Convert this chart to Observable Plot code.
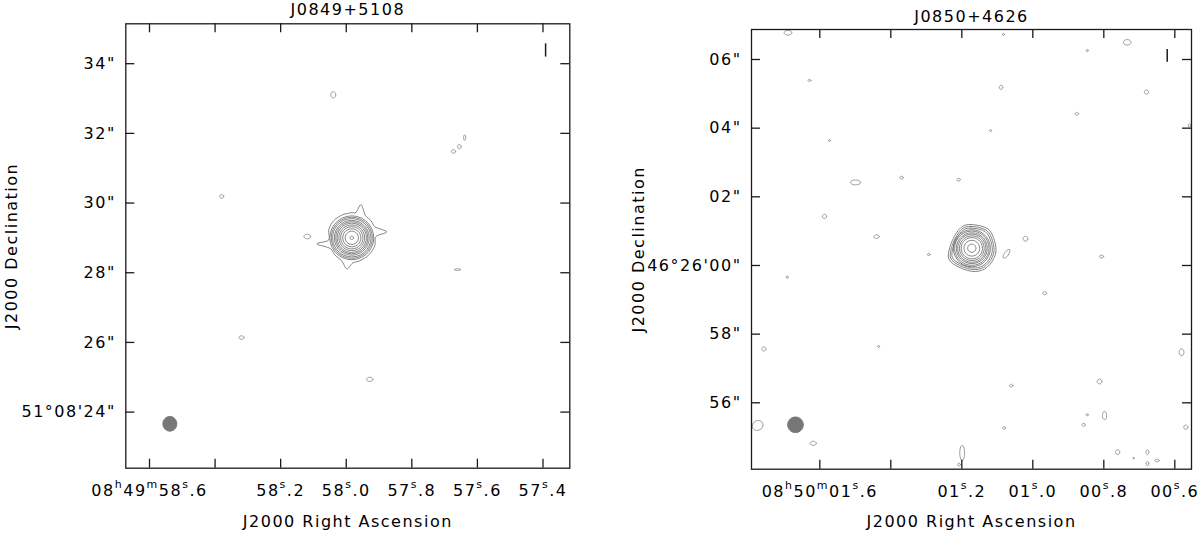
<!DOCTYPE html>
<html><head><meta charset="utf-8">
<script src="https://cdn.jsdelivr.net/npm/d3@7"></script>
<script src="https://cdn.jsdelivr.net/npm/@observablehq/plot@0.6"></script>
<style>
html,body{margin:0;padding:0;background:#fff;}
#wrap{position:relative;width:1200px;height:533px;overflow:hidden;background:#fff;}
#left,#right{position:absolute;top:0;}
#left{left:0}#right{left:600px}
</style></head>
<body><div id="wrap"><div id="left"></div><div id="right"></div></div>
<script>
// ---------------- Left panel: J0849+5108 ----------------
const leftTitle = "J0849+5108";
const leftDecDeg = 51 + 8 / 60;             // Dec of the field (deg), for RA seconds <-> arcsec
const leftXDomain = [58.6723, 57.3182];      // RA seconds past 08h49m
const leftYDomain = [22.39, 35.145];         // Dec arcsec past 51°08'
const leftXTicks = [58.6, 58.4, 58.2, 58.0, 57.8, 57.6, 57.4];
const leftXLabels = ["08h49m58s.6", "", "58s.2", "58s.0", "57s.8", "57s.6", "57s.4"];
const leftYTicks = [24, 26, 28, 30, 32, 34];
const leftYLabels = ["51°08'24\"", "26\"", "28\"", "30\"", "32\"", "34\""];
const leftSource = {ra: 57.9831, dec: 29.003};
const leftRings = [0.05, 0.19, 0.26, 0.32, 0.37, 0.42, 0.46, 0.50, 0.55, 0.59, 0.63]; // contour radii, arcsec
const leftOutline = [[0,0.72],[0.11,0.72],[0.26,0.95],[0.40,0.63],[0.55,0.49],[0.66,0.32],[1.0,0.17],[0.69,0.03],[0.66,-0.23],[0.49,-0.49],[0.23,-0.66],[0.03,-0.72],[-0.14,-0.89],[-0.29,-0.66],[-0.49,-0.49],[-0.60,-0.32],[-1.0,-0.17],[-0.66,-0.06],[-0.66,0.23],[-0.52,0.49],[-0.26,0.66]]; // outer contour, arcsec west/north
const leftOutlineLevels = [1];
const leftNoiseRA  = [58.0395, 57.673, 57.655, 57.639, 58.380, 58.119, 57.661, 58.319, 57.9285];
const leftNoiseDec = [33.107, 31.48, 31.62, 31.88, 30.19, 29.04, 28.09, 26.14, 24.94];
const leftNoiseRx  = [0.07, 0.06, 0.05, 0.03, 0.06, 0.095, 0.09, 0.07, 0.09];
const leftNoiseRy  = [0.09, 0.05, 0.06, 0.08, 0.05, 0.066, 0.025, 0.05, 0.06];
const leftBeam = {ra: 58.538, dec: 23.664, rx: 0.20, ry: 0.21};
const leftMarker = {ra: 57.392, dec1: 34.19, dec2: 34.57};

// ---------------- Right panel: J0850+4626 ----------------
const rightTitle = "J0850+4626";
const rightDecDeg = 46 + 26 / 60;
const rightXDomain = [1.7924, 0.553];        // RA seconds past 08h50m
const rightYDomain = [54.066, 66.874];       // Dec arcsec past 46°25'
const rightXTicks = [1.6, 1.4, 1.2, 1.0, 0.8, 0.6];
const rightXLabels = ["08h50m01s.6", "", "01s.2", "01s.0", "00s.8", "00s.6"];
const rightYTicks = [56, 58, 60, 62, 64, 66];
const rightYLabels = ["56\"", "58\"", "46°26'00\"", "02\"", "04\"", "06\""];
const rightSource = {ra: 1.1718, dec: 60.503};
const rightRings = [0.12, 0.23, 0.31, 0.36, 0.41, 0.45, 0.50, 0.54];
const rightOutline = [[-0.28,0.63],[-0.04,0.69],[0.47,0.56],[0.66,0.22],[0.69,-0.17],[0.45,-0.55],[0.11,-0.68],[-0.38,-0.55],[-0.67,-0.31],[-0.57,0.22]];
const rightOutlineLevels = [1, 0.92, 0.85];
const rightNoiseRA  = [1.6896, 1.0829, 0.8468, 0.7341, 1.6292, 1.0894, 0.680, 0.876, 0.5586, 1.5727, 1.1192, 1.4994, 1.3699, 1.2093, 1.5868, 1.4403, 1.2930, 1.0741, 1.0206, 0.9670, 0.8065, 1.6918, 1.7577, 1.4346, 0.5811, 0.812, 1.061, 1.775, 1.6186, 1.199, 1.208, 1.081, 0.847, 0.798, 0.857, 0.761, 0.716, 0.677, 0.677, 0.650, 0.569];
const rightNoiseDec = [66.78, 66.73, 66.26, 66.50, 65.39, 65.19, 65.05, 64.42, 64.08, 63.64, 63.93, 62.42, 62.56, 62.50, 61.43, 60.84, 60.32, 60.34, 60.78, 59.19, 60.26, 59.66, 57.57, 57.64, 57.47, 56.62, 56.50, 55.34, 54.82, 54.54, 54.20, 55.27, 55.65, 55.63, 55.36, 54.56, 54.39, 54.56, 54.23, 54.32, 55.29];
const rightNoiseRx  = [0.11, 0.03, 0.03, 0.11, 0.04, 0.05, 0.06, 0.05, 0.04, 0.03, 0.03, 0.15, 0.05, 0.05, 0.06, 0.08, 0.04, 0.15, 0.07, 0.06, 0.06, 0.03, 0.06, 0.03, 0.07, 0.07, 0.05, 0.16, 0.09, 0.07, 0.04, 0.04, 0.03, 0.06, 0.05, 0.06, 0.02, 0.04, 0.04, 0.06, 0.06];
const rightNoiseRy  = [0.07, 0.03, 0.03, 0.08, 0.03, 0.06, 0.06, 0.04, 0.04, 0.03, 0.03, 0.07, 0.04, 0.04, 0.06, 0.05, 0.03, 0.06, 0.07, 0.04, 0.04, 0.03, 0.06, 0.03, 0.10, 0.07, 0.04, 0.14, 0.06, 0.22, 0.04, 0.04, 0.03, 0.12, 0.04, 0.07, 0.02, 0.07, 0.06, 0.04, 0.06];
const rightNoiseAngle = {17: 55, 27: 30};
const rightBeam = {ra: 1.6685, dec: 55.359, rx: 0.227, ry: 0.227};
const rightMarker = {ra: 0.6214, dec1: 65.92, dec2: 66.29};

const axisTitleX = "J2000 Right Ascension";
const axisTitleY = "J2000 Declination";

// ---------------- drawing ----------------
function ellipse(id, ra0, dec0, rx, ry, angleDeg, k, n = 28) {
  const a = angleDeg * Math.PI / 180, pts = [];
  for (let j = 0; j < n; j++) {
    const t = 2 * Math.PI * j / n, ex = rx * Math.cos(t), ey = ry * Math.sin(t);
    const dx = ex * Math.cos(a) - ey * Math.sin(a), dy = ex * Math.sin(a) + ey * Math.cos(a);
    pts.push({id, ra: ra0 - dx / k, dec: dec0 + dy});
  }
  return pts;
}

function panel(c) {
  const W = 600, H = 533, m = c.margins;
  const fw = W - m.left - m.right, fh = H - m.top - m.bottom, tick = 9;
  const k = 15 * Math.cos(c.decDeg * Math.PI / 180); // arcsec per RA second
  const ringPts = c.rings.flatMap((r, i) => ellipse("r" + i, c.source.ra, c.source.dec, r, r, 0, k));
  const outlinePts = c.outlineLevels.flatMap((s, i) => c.outline.map(([dx, dy]) => ({id: "o" + i, ra: c.source.ra - dx * s / k, dec: c.source.dec + dy * s})));
  const noisePts = c.noiseRA.flatMap((ra, i) => ellipse("n" + i, ra, c.noiseDec[i], c.noiseRx[i], c.noiseRy[i], (c.noiseAngle || {})[i] || 0, k));
  const beamPts = ellipse("beam", c.beam.ra, c.beam.dec, c.beam.rx, c.beam.ry, 0, k, 40);
  const xLab = new Map(c.xTicks.map((t, i) => [t, c.xLabels[i]]));
  const yLab = new Map(c.yTicks.map((t, i) => [t, c.yLabels[i]]));
  const ink = "#1a1a1a", cont = "#666";
  const svg = Plot.plot({
    width: W, height: H,
    marginTop: m.top, marginRight: m.right, marginBottom: m.bottom, marginLeft: m.left,
    style: {fontFamily: "'DejaVu Sans', sans-serif", fontSize: "16px", letterSpacing: "1.5px", background: "#fff", color: "#000"},
    x: {domain: c.xDomain, label: null},
    y: {domain: c.yDomain, label: null},
    marks: [
      Plot.line(beamPts, {x: "ra", y: "dec", z: "id", curve: "linear-closed", fill: "#777", stroke: "#777", strokeWidth: 1}),
      Plot.line(noisePts, {x: "ra", y: "dec", z: "id", curve: "linear-closed", stroke: "#808080", strokeWidth: 0.8, clip: true}),
      Plot.line(ringPts, {x: "ra", y: "dec", z: "id", curve: "linear-closed", stroke: cont, strokeWidth: 0.8}),
      Plot.line(outlinePts, {x: "ra", y: "dec", z: "id", curve: "catmull-rom-closed", stroke: cont, strokeWidth: 0.8}),
      Plot.ruleX([c.marker], {x: "ra", y1: "dec1", y2: "dec2", stroke: ink, strokeWidth: 1.5}),
      Plot.frame({stroke: ink, strokeWidth: 1.3}),
      Plot.tickX(c.xTicks, {x: d => d, insetTop: fh - tick, stroke: ink, strokeWidth: 1.3}),
      Plot.tickX(c.xTicks, {x: d => d, insetBottom: fh - tick, stroke: ink, strokeWidth: 1.3}),
      Plot.tickY(c.yTicks, {y: d => d, insetRight: fw - tick, stroke: ink, strokeWidth: 1.3}),
      Plot.tickY(c.yTicks, {y: d => d, insetLeft: fw - tick, stroke: ink, strokeWidth: 1.3}),
      Plot.axisX(c.xTicks, {tickSize: 0, tickPadding: 16.5, tickFormat: d => xLab.get(d), label: null}),
      Plot.axisY(c.yTicks, {tickSize: 0, tickPadding: 10, tickFormat: d => yLab.get(d), label: null}),
      Plot.text([c.title], {text: d => d, frameAnchor: "top", dy: c.titleDy, lineAnchor: "bottom", fill: "#000"}),
      Plot.text([axisTitleX], {text: d => d, frameAnchor: "bottom", dy: c.xTitleDy, lineAnchor: "bottom", fill: "#000"}),
      Plot.text([axisTitleY], {text: d => d, frameAnchor: "left", dx: c.yTitleDx, rotate: -90, lineAnchor: "bottom", textAnchor: "middle", fill: "#000"})
    ]
  });
  // superscript h, m, s in RA tick labels
  svg.querySelectorAll('[aria-label="x-axis tick label"] text').forEach(t => {
    const s = t.textContent;
    if (!/[hms]/.test(s)) return;
    t.textContent = "";
    let raised = false;
    for (const part of s.split(/([hms])/)) {
      if (!part) continue;
      const ts = document.createElementNS("http://www.w3.org/2000/svg", "tspan");
      if (/^[hms]$/.test(part)) {
        ts.setAttribute("font-size", "11px");
        if (!raised) ts.setAttribute("dy", "-8.5");
        raised = true;
      } else {
        if (raised) ts.setAttribute("dy", "8.5");
        raised = false;
      }
      ts.textContent = part;
      t.appendChild(ts);
    }
  });
  return svg;
}

document.getElementById("left").appendChild(panel({
  title: leftTitle, decDeg: leftDecDeg, xDomain: leftXDomain, yDomain: leftYDomain,
  xTicks: leftXTicks, xLabels: leftXLabels, yTicks: leftYTicks, yLabels: leftYLabels,
  source: leftSource, rings: leftRings, outline: leftOutline, outlineLevels: leftOutlineLevels,
  noiseRA: leftNoiseRA, noiseDec: leftNoiseDec, noiseRx: leftNoiseRx, noiseRy: leftNoiseRy,
  beam: leftBeam, marker: leftMarker,
  margins: {top: 23.3, right: 30.7, bottom: 65.3, left: 125.3},
  titleDy: -8.3, xTitleDy: 59, yTitleDx: -109.3
}));
document.getElementById("right").appendChild(panel({
  title: rightTitle, decDeg: rightDecDeg, xDomain: rightXDomain, yDomain: rightYDomain,
  xTicks: rightXTicks, xLabels: rightXLabels, yTicks: rightYTicks, yLabels: rightYLabels,
  source: rightSource, rings: rightRings, outline: rightOutline, outlineLevels: rightOutlineLevels,
  noiseRA: rightNoiseRA, noiseDec: rightNoiseDec, noiseRx: rightNoiseRx, noiseRy: rightNoiseRy, noiseAngle: rightNoiseAngle,
  beam: rightBeam, marker: rightMarker,
  margins: {top: 29, right: 9, bottom: 64.3, left: 151},
  titleDy: -7.3, xTitleDy: 58, yTitleDx: -108
}));
</script>
</body></html>
